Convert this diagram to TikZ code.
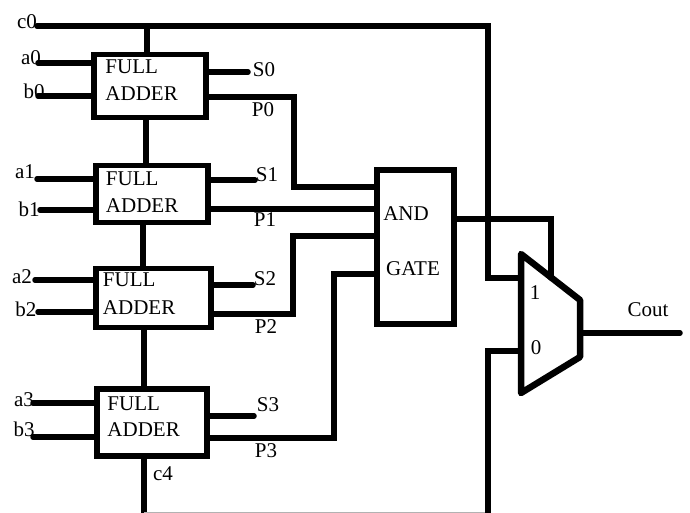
\documentclass[tikz,border=0pt]{standalone}
\usepackage{fontspec}
\setmainfont{Liberation Serif}
\usetikzlibrary{positioning}
\begin{document}
\begin{tikzpicture}[
  x=1pt, y=-1pt,
  adder/.style={draw, line width=5.5pt, minimum width=112pt, minimum height=61pt, inner sep=0pt},
  andgate/.style={draw, line width=5.5pt, minimum width=77pt, minimum height=154pt, inner sep=0pt},
  lbl/.style={inner sep=0pt, font=\fontsize{21}{21}\selectfont},
  wire/.style={line width=5.5pt, line cap=round},
  edgewire/.style={line width=1pt, draw=gray!60},
  muxline/.style={line width=6.5pt, line cap=round, line join=round}
]
\useasboundingbox (0,0) rectangle (690,513);
% adders
\node[adder, minimum width=112pt, minimum height=63pt] (fa0) at (150,86) {};
\node[adder, minimum width=112pt, minimum height=57pt] (fa1) at (152,194) {};
\node[adder, minimum width=115pt, minimum height=59pt] (fa2) at (153.5,298) {};
\node[adder, minimum width=110pt, minimum height=67pt] (fa3) at (152,422.5) {};
\node[lbl, right=0pt of fa0.west, xshift=14pt, yshift=19.5pt] (fa0a) {FULL};
\node[lbl, right=0pt of fa0.west, xshift=14pt, yshift=-7.5pt] (fa0b) {ADDER};
\node[lbl, right=0pt of fa1.west, xshift=12.5pt, yshift=15.5pt] (fa1a) {FULL};
\node[lbl, right=0pt of fa1.west, xshift=12.5pt, yshift=-11.5pt] (fa1b) {ADDER};
\node[lbl, right=0pt of fa2.west, xshift=9.5pt, yshift=18.5pt] (fa2a) {FULL};
\node[lbl, right=0pt of fa2.west, xshift=9.5pt, yshift=-9.5pt] (fa2b) {ADDER};
\node[lbl, right=0pt of fa3.west, xshift=13pt, yshift=19pt] (fa3a) {FULL};
\node[lbl, right=0pt of fa3.west, xshift=13pt, yshift=-7pt] (fa3b) {ADDER};
% and gate
\node[andgate] (gate) at (415.5,247) {};
\node[lbl] (gatea) at (406,214) {AND};
\node[lbl] (gateb) at (413,269) {GATE};
% mux
\coordinate (mtl) at (521,254);
\coordinate (mtr) at (580,300);
\coordinate (mbr) at (580,357);
\coordinate (mbl) at (521,393);
\draw[muxline] (mtl) -- (mtr) -- (mbr) -- (mbl) -- cycle;
\node[lbl] (mux1) at (535,293) {1};
\node[lbl] (mux0) at (536,348) {0};
% free ends
\coordinate (c0end) at (37,26);
\coordinate (c0top) at (488,26);
\coordinate (c0tap) at (147,26);
\coordinate (link01) at (146,140);
\coordinate (link12) at (143,245);
\coordinate (link23) at (144,358);
\coordinate (mux1in) at (521,278);
\coordinate (mux0in) at (521,351);
\coordinate (c4end) at (144,513);
\coordinate (c4low) at (144,512);
\coordinate (botend) at (488,513);
\coordinate (a0end) at (38,63);
\coordinate (b0end) at (38,96);
\coordinate (a1end) at (37,179);
\coordinate (b1end) at (40,210);
\coordinate (a2end) at (35,280);
\coordinate (b2end) at (38,312);
\coordinate (a3end) at (33,403);
\coordinate (b3end) at (33,437);
\coordinate (s0end) at (248,72);
\coordinate (s1end) at (255,180);
\coordinate (s2end) at (253,285);
\coordinate (s3end) at (254,416);
\coordinate (p0bend) at (294,97);
\coordinate (p1in) at (377,209);
\coordinate (p0in) at (377,187);
\coordinate (p2bend) at (293,314);
\coordinate (p2in) at (377,236);
\coordinate (p3bend) at (334,438);
\coordinate (p3in) at (377,274);
\coordinate (gateout) at (551,219);
\coordinate (gatedrop) at (551,278);
\coordinate (coutend) at (680,333);
% labels
\node[lbl] (c0) at (27,22) {c0};
\node[lbl] (a0) at (31,58) {a0};
\node[lbl] (b0) at (34,91) {b0};
\node[lbl] (a1) at (25,172) {a1};
\node[lbl] (b1) at (29,209) {b1};
\node[lbl] (a2) at (22,277) {a2};
\node[lbl] (b2) at (26,309) {b2};
\node[lbl] (a3) at (24,400) {a3};
\node[lbl] (b3) at (24,429) {b3};
\node[lbl] (s0) at (264,70) {S0};
\node[lbl] (p0) at (263,110) {P0};
\node[lbl] (s1) at (267,175) {S1};
\node[lbl] (p1) at (265,220) {P1};
\node[lbl] (s2) at (265,279) {S2};
\node[lbl] (p2) at (266,327) {P2};
\node[lbl] (s3) at (268,405) {S3};
\node[lbl] (p3) at (266,451) {P3};
\node[lbl] (c4) at (163,474) {c4};
\node[lbl] (cout) at (648,310) {Cout};
% carry chain
\draw[wire] (c0end) -- (c0top) -- (mux1in -| c0top) -- (mux1in);
\draw[wire] (c0tap) -- (c0tap |- fa0.north);
\draw[wire] (link01 |- fa0.south) -- (link01 |- fa1.north);
\draw[wire] (link12 |- fa1.south) -- (link12 |- fa2.north);
\draw[wire] (link23 |- fa2.south) -- (link23 |- fa3.north);
\draw[wire, line cap=butt] (c4end |- fa3.south) -- (c4end);
\draw[edgewire] (c4low) -- (c4low -| botend);
\draw[wire, line cap=butt] (botend) -- (mux0in -| botend) -- (mux0in);
% inputs
\draw[wire] (a0end) -- (a0end -| fa0.west);
\draw[wire] (b0end) -- (b0end -| fa0.west);
\draw[wire] (a1end) -- (a1end -| fa1.west);
\draw[wire] (b1end) -- (b1end -| fa1.west);
\draw[wire] (a2end) -- (a2end -| fa2.west);
\draw[wire] (b2end) -- (b2end -| fa2.west);
\draw[wire] (a3end) -- (a3end -| fa3.west);
\draw[wire] (b3end) -- (b3end -| fa3.west);
% outputs
\draw[wire] (s0end -| fa0.east) -- (s0end);
\draw[wire] (s1end -| fa1.east) -- (s1end);
\draw[wire] (s2end -| fa2.east) -- (s2end);
\draw[wire] (s3end -| fa3.east) -- (s3end);
\draw[wire] (p0bend -| fa0.east) -- (p0bend) -- (p0in -| p0bend) -- (p0in);
\draw[wire] (p1in -| fa1.east) -- (p1in);
\draw[wire] (p2bend -| fa2.east) -- (p2bend) -- (p2in -| p2bend) -- (p2in);
\draw[wire] (p3bend -| fa3.east) -- (p3bend) -- (p3in -| p3bend) -- (p3in);
% mux connections
\draw[wire] (gateout -| gate.east) -- (gateout) -- (gatedrop);
\draw[wire] (mtr |- coutend) -- (coutend);
\end{tikzpicture}
\end{document}
